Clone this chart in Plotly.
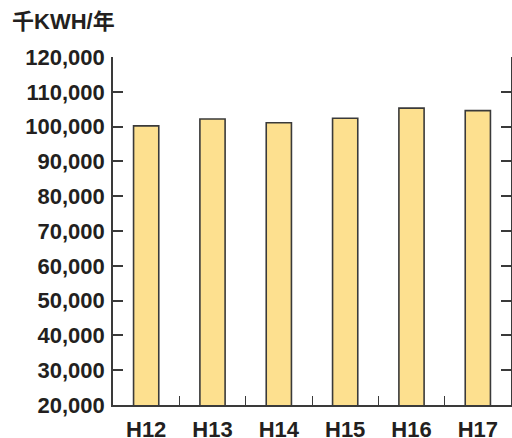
import plotly.graph_objects as go

categories = ["H12", "H13", "H14", "H15", "H16", "H17"]
values = [100200, 102200, 101100, 102400, 105300, 104600]
y_ticks = [20000, 30000, 40000, 50000, 60000, 70000, 80000, 90000, 100000, 110000, 120000]
y_ticklabels = ["20,000", "30,000", "40,000", "50,000", "60,000", "70,000",
                "80,000", "90,000", "100,000", "110,000", "120,000"]
unit_label = "千KWH/年"

W, H = 512, 438
ML, MR, MT, MB = 113, 1, 57, 33
font_family = "Liberation Sans, Arial, Noto Sans CJK JP, sans-serif"
txt_color = "#231f20"
line_color = "#3a3a3a"

fig = go.Figure()
fig.add_trace(go.Bar(
    x=categories, y=values, width=0.38,
    marker=dict(color="#FDE08F", line=dict(color=line_color, width=1.6)),
))

plot_w = W - ML - MR
plot_h = H - MT - MB

fig.update_layout(
    width=W, height=H,
    margin=dict(l=ML, r=MR, t=MT, b=MB, pad=0, autoexpand=False),
    paper_bgcolor="white", plot_bgcolor="white",
    showlegend=False,
    font=dict(family=font_family, color=txt_color, size=20),
    xaxis=dict(
        type="category", automargin=False,
        showline=True, linecolor=line_color, linewidth=1.6,
        ticks="inside", tickson="boundaries", ticklen=9, tickwidth=1.3, tickcolor=line_color,
        mirror=False, showgrid=False,
        tickfont=dict(family=font_family, size=22, color=txt_color, weight="bold"),
        ticklabelstandoff=4,
    ),
    yaxis=dict(
        range=[20000, 120000], automargin=False,
        tickvals=y_ticks, ticktext=y_ticklabels,
        showline=True, linecolor=line_color, linewidth=1.6,
        ticks="inside", ticklen=10, tickwidth=1.6, tickcolor=line_color,
        mirror="ticks", showgrid=False, zeroline=False,
        tickfont=dict(family=font_family, size=22, color=txt_color, weight="bold"),
        ticklabelstandoff=2,
    ),
    annotations=[dict(
        text=unit_label, showarrow=False,
        xref="paper", yref="paper",
        x=(10 - ML) / plot_w, y=1 + (MT - 22) / plot_h,
        xanchor="left", yanchor="middle",
        font=dict(family="Liberation Sans, Noto Sans CJK JP, sans-serif", size=22,
                  color=txt_color, weight="bold"),
    )],
)

fig.write_html("out.html",
               config={"displayModeBar": False},
               post_script="document.body.style.margin='0';document.body.style.overflow='hidden';")
